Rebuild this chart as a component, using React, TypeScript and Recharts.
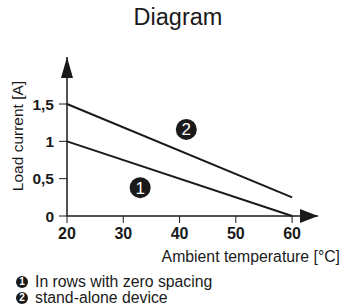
import React from 'react';
import { ComposedChart, Line, XAxis, YAxis, ReferenceDot } from 'recharts';

const temperatures = [20, 60];
const rowsZeroSpacing = [1, 0];
const standAlone = [1.5, 0.25];
const xTicks = [20, 30, 40, 50, 60];
const yTicks = [0, 0.5, 1, 1.5];
const markerLabels = ['1', '2'];
const markerX = [33, 41.2];
const markerY = [0.38, 1.16];
const legendTexts = ['In rows with zero spacing', 'stand-alone device'];

const X_MAX = 64.6;
const Y_MAX = 2.13;

const data = temperatures.map((t, i) => ({ t, a: rowsZeroSpacing[i], b: standAlone[i] }));

const FONT = '"Liberation Sans", Arial, sans-serif';
const INK = '#1a1a1a';

const ArrowRight = (props: any) => {
  const { cx, cy } = props;
  return <path d={`M${cx - 18},${cy - 7} L${cx},${cy} L${cx - 18},${cy + 7} Z`} fill={INK} />;
};
const ArrowUp = (props: any) => {
  const { cx, cy } = props;
  return <path d={`M${cx - 6},${cy + 21} L${cx},${cy} L${cx + 6},${cy + 21} Z`} fill={INK} />;
};

const Bullet = ({ n, size }: { n: string; size: number }) => (
  <span
    style={{
      display: 'inline-block',
      width: size,
      height: size,
      borderRadius: '50%',
      background: INK,
      color: '#fff',
      fontSize: size - 2,
      lineHeight: `${size}px`,
      textAlign: 'center',
      fontWeight: 'bold',
      marginRight: 7,
      verticalAlign: 'middle',
      position: 'relative',
      top: -1,
    }}
  >
    {n}
  </span>
);

export default function App() {
  return (
    <div style={{ position: 'absolute', left: 0, top: 0, width: 344, height: 307, background: '#fff', fontFamily: FONT, color: INK }}>
      <div style={{ position: 'absolute', left: 0, width: 356, top: 4, textAlign: 'center', fontSize: 23.5 }}>Diagram</div>
      <ComposedChart width={344} height={307} data={data} margin={{ top: 57, right: 26, bottom: 61, left: 0 }}>
        <XAxis
          dataKey="t"
          type="number"
          domain={[20, X_MAX]}
          ticks={xTicks}
          axisLine={{ stroke: INK, strokeWidth: 1.5 }}
          tickLine={{ stroke: INK }}
          tickSize={7}
          tickMargin={5}
          height={30}
          tick={{ fontSize: 16, fontWeight: 'bold', fill: INK, fontFamily: FONT }}
        />
        <YAxis
          type="number"
          domain={[0, Y_MAX]}
          ticks={yTicks}
          width={67}
          axisLine={{ stroke: INK, strokeWidth: 1.5 }}
          tickLine={{ stroke: INK }}
          tickSize={8}
          tickMargin={5}
          tickFormatter={(v: number) => String(v).replace('.', ',')}
          tick={{ fontSize: 15.5, fontWeight: 'bold', fill: INK, fontFamily: FONT }}
        />
        <Line dataKey="a" stroke={INK} strokeWidth={2} dot={false} isAnimationActive={false} />
        <Line dataKey="b" stroke={INK} strokeWidth={2} dot={false} isAnimationActive={false} />
        {markerLabels.map((m, i) => (
          <ReferenceDot
            key={m}
            x={markerX[i]}
            y={markerY[i]}
            r={10.5}
            fill={INK}
            stroke="none"
            label={{ value: m, position: 'center', fill: '#fff', fontSize: 17, fontFamily: FONT }}
          />
        ))}
        <ReferenceDot x={X_MAX} y={0} shape={ArrowRight} />
        <ReferenceDot x={20} y={Y_MAX} shape={ArrowUp} />
      </ComposedChart>
      <div
        style={{
          position: 'absolute',
          left: 18,
          top: 136,
          fontSize: 15.5,
          whiteSpace: 'nowrap',
          transform: 'translate(-50%, -50%) rotate(-90deg)',
        }}
      >
        Load current [A]
      </div>
      <div style={{ position: 'absolute', right: 4, top: 248, fontSize: 15.8, whiteSpace: 'nowrap' }}>Ambient temperature [°C]</div>
      <div style={{ position: 'absolute', left: 16, top: 274, fontSize: 15.8, lineHeight: '16px' }}>
        {legendTexts.map((t, i) => (
          <div key={t} style={{ whiteSpace: 'nowrap' }}>
            <Bullet n={markerLabels[i]} size={12} />
            {t}
          </div>
        ))}
      </div>
    </div>
  );
}
